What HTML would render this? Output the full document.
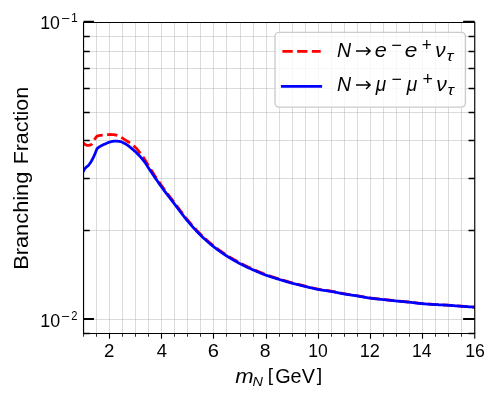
<!DOCTYPE html>
<html><head><meta charset="utf-8"><style>
html,body{margin:0;padding:0;background:#fff;}
svg{display:block;}
text{font-family:"Liberation Sans",sans-serif;fill:#000;font-kerning:none;}
</style></head><body>
<svg width="500" height="400" viewBox="0 0 500 400">
<rect x="0" y="0" width="500" height="400" fill="#fff"/>
<path d="M96.5 22.50 V333.45 M109.5 22.50 V333.45 M122.5 22.50 V333.45 M135.5 22.50 V333.45 M148.5 22.50 V333.45 M161.5 22.50 V333.45 M174.5 22.50 V333.45 M187.5 22.50 V333.45 M200.5 22.50 V333.45 M213.5 22.50 V333.45 M226.5 22.50 V333.45 M240.5 22.50 V333.45 M253.5 22.50 V333.45 M266.5 22.50 V333.45 M279.5 22.50 V333.45 M292.5 22.50 V333.45 M305.5 22.50 V333.45 M318.5 22.50 V333.45 M331.5 22.50 V333.45 M344.5 22.50 V333.45 M357.5 22.50 V333.45 M370.5 22.50 V333.45 M383.5 22.50 V333.45 M396.5 22.50 V333.45 M409.5 22.50 V333.45 M422.5 22.50 V333.45 M435.5 22.50 V333.45 M448.5 22.50 V333.45 M461.5 22.50 V333.45" stroke="#b0b0b0" stroke-opacity="0.45" stroke-width="1" fill="none" shape-rendering="crispEdges"/>
<path d="M83.55 230.5 H474.75 M83.55 178.5 H474.75 M83.55 140.5 H474.75 M83.55 112.5 H474.75 M83.55 88.5 H474.75 M83.55 68.5 H474.75 M83.55 51.5 H474.75 M83.55 36.5 H474.75 M83.55 319.5 H474.75" stroke="#b0b0b0" stroke-opacity="0.45" stroke-width="1" fill="none" shape-rendering="crispEdges"/>
<defs><clipPath id="ax"><rect x="83.55" y="22.5" width="391.2" height="310.95"/></clipPath></defs>
<g clip-path="url(#ax)">
<path d="M83.00 143.00 L83.50 143.22 L83.55 143.25 L84.00 143.54 L84.50 143.96 L85.00 144.38 L85.50 144.76 L86.00 145.00 L86.50 145.15 L87.00 145.28 L87.50 145.37 L88.00 145.40 L88.50 145.38 L89.00 145.31 L89.50 145.21 L90.00 145.10 L90.50 144.92 L91.00 144.65 L91.50 144.30 L92.00 143.76 L92.50 142.98 L93.00 142.07 L93.50 141.14 L94.00 140.30 L94.50 139.55 L95.00 138.82 L95.50 138.10 L96.00 137.39 L96.50 136.70 L96.80 136.30 L97.30 136.11 L97.80 135.93 L98.30 135.77 L98.80 135.64 L99.00 135.60 L99.30 135.55 L99.80 135.46 L100.30 135.39 L100.80 135.33 L101.30 135.28 L101.80 135.22 L102.00 135.20 L102.30 135.17 L102.80 135.12 L103.30 135.07 L103.80 135.02 L104.30 134.98 L104.80 134.93 L105.30 134.89 L105.80 134.85 L106.30 134.81 L106.80 134.77 L107.00 134.75 L107.30 134.72 L107.80 134.67 L108.30 134.61 L108.80 134.56 L109.30 134.52 L109.80 134.50 L110.00 134.50 L110.30 134.50 L110.80 134.51 L111.30 134.52 L111.80 134.54 L112.30 134.56 L112.80 134.59 L113.00 134.60 L113.30 134.62 L113.80 134.68 L114.30 134.75 L114.80 134.85 L115.30 134.95 L115.80 135.07 L116.30 135.20 L116.50 135.25 L116.80 135.33 L117.30 135.49 L117.80 135.68 L118.30 135.89 L118.80 136.12 L119.30 136.36 L119.80 136.62 L120.30 136.88 L120.80 137.14 L121.00 137.25 L121.30 137.41 L121.80 137.71 L122.30 138.03 L122.80 138.36 L123.30 138.71 L123.80 139.05 L124.30 139.39 L124.80 139.72 L125.00 139.85 L125.30 140.04 L125.80 140.34 L126.30 140.63 L126.80 140.93 L127.30 141.22 L127.80 141.51 L128.30 141.82 L128.80 142.13 L129.30 142.46 L129.50 142.60 L129.80 142.81 L130.30 143.17 L130.80 143.54 L131.30 143.92 L131.80 144.31 L132.30 144.71 L132.80 145.12 L133.30 145.54 L133.80 145.97 L134.30 146.41 L134.80 146.86 L135.30 147.31 L135.50 147.50 L136.00 147.95 L136.50 148.53 L137.00 149.13 L137.50 149.72 L138.00 150.33 L138.50 150.94 L139.00 151.57 L139.50 152.20 L140.00 152.84 L140.50 153.48 L141.00 154.14 L141.50 154.81 L142.00 155.48 L142.50 156.16 L143.00 156.87 L143.50 157.58 L144.00 158.31 L144.50 159.06 L145.00 159.83 L145.50 160.63 L146.00 161.47 L146.50 162.33 L147.00 163.21 L147.50 164.08 L148.00 164.93 L148.50 165.76 L149.00 166.57 L149.50 167.37 L150.00 168.16 L150.50 168.95 L151.00 169.74 L151.50 170.52 L152.00 171.30 L152.50 172.08 L153.00 172.86 L153.50 173.63 L154.00 174.40 L154.50 175.16 L155.00 175.93 L155.50 176.69 L156.00 177.44 L156.50 178.20 L157.00 178.95 L157.50 179.69 L158.00 180.43 L158.50 181.17 L159.00 181.90 L159.50 182.63 L160.00 183.35 L160.50 184.07 L161.00 184.79 L161.50 185.50 L162.00 186.20 L162.50 186.90 L163.00 187.59 L163.50 188.28 L164.00 188.97 L164.50 189.65 L165.00 190.32 L165.50 190.99 L166.00 191.66 L166.50 192.33 L167.00 192.99 L167.50 193.65 L168.00 194.31 L168.50 194.97 L169.00 195.62 L169.50 196.28 L170.00 196.93 L170.50 197.59 L171.00 198.24 L171.50 198.90 L172.00 199.55 L172.50 200.20 L173.00 200.86 L173.50 201.52 L174.00 202.17 L174.50 202.83 L175.00 203.50 L175.50 204.16 L176.00 204.83 L176.50 205.50 L177.00 206.17 L177.50 206.84 L178.00 207.52 L178.50 208.19 L179.00 208.86 L179.50 209.54 L180.00 210.21 L180.50 210.88 L181.00 211.55 L181.50 212.21 L182.00 212.88 L182.50 213.54 L183.00 214.19 L183.50 214.84 L184.00 215.49 L184.50 216.13 L185.00 216.77 L185.50 217.40 L186.00 218.02 L186.50 218.64 L187.00 219.25 L187.50 219.85 L188.00 220.45 L188.50 221.04 L189.00 221.63 L189.50 222.22 L190.00 222.80 L190.50 223.39 L191.00 223.96 L191.50 224.54 L192.00 225.11 L192.50 225.68 L193.00 226.24 L193.50 226.80 L194.00 227.36 L194.50 227.91 L195.00 228.46 L195.50 229.00 L196.00 229.54 L196.50 230.08 L197.00 230.61 L197.50 231.13 L198.00 231.65 L198.50 232.17 L199.00 232.68 L199.50 233.18 L200.00 233.68 L200.50 234.18 L201.00 234.67 L201.50 235.15 L202.00 235.64 L202.50 236.12 L203.00 236.59 L203.50 237.06 L204.00 237.53 L204.50 238.00 L205.00 238.46 L205.50 238.92 L206.00 239.37 L206.50 239.82 L207.00 240.27 L207.50 240.71 L208.00 241.15 L208.50 241.58 L209.00 242.02 L209.50 242.44 L210.00 242.87 L210.50 243.29 L211.00 243.71 L211.50 244.12 L212.00 244.53 L212.50 244.94 L213.00 245.34 L213.50 245.74 L214.00 246.13 L214.50 246.52 L215.00 246.91 L215.50 247.30 L216.00 247.68 L216.50 248.06 L217.00 248.43 L217.50 248.81 L218.00 249.18 L218.50 249.55 L219.00 249.91 L219.50 250.27 L220.00 250.63 L220.50 250.99 L221.00 251.34 L221.50 251.69 L222.00 252.04 L222.50 252.38 L223.00 252.72 L223.50 253.06 L224.00 253.40 L224.50 253.73 L225.00 254.06 L225.50 254.39 L226.00 254.72 L226.50 255.04 L227.00 255.36 L227.50 255.68 L228.00 255.99 L228.50 256.31 L229.00 256.62 L229.50 256.93 L230.00 257.24 L230.50 257.54 L231.00 257.85 L231.50 258.15 L232.00 258.45 L232.50 258.74 L233.00 259.04 L233.50 259.33 L234.00 259.62 L234.50 259.91 L235.00 260.19 L235.50 260.48 L236.00 260.76 L236.50 261.04 L237.00 261.32 L237.50 261.59 L238.00 261.87 L238.50 262.14 L239.00 262.41 L239.50 262.68 L240.00 262.94 L240.50 263.20 L241.00 263.47 L241.50 263.73 L242.00 263.98 L242.50 264.24 L243.00 264.49 L243.50 264.74 L244.00 264.99 L244.50 265.24 L245.00 265.48 L245.50 265.73 L246.00 265.97 L246.50 266.21 L247.00 266.45 L247.50 266.68 L248.00 266.92 L248.50 267.15 L249.00 267.39 L249.50 267.62 L250.00 267.85 L250.50 268.08 L251.00 268.31 L251.50 268.53 L252.00 268.76 L252.50 268.98 L253.00 269.21 L253.50 269.43 L254.00 269.65 L254.50 269.87 L255.00 270.10 L255.50 270.32 L256.00 270.54 L256.50 270.76 L257.00 270.98 L257.50 271.19 L258.00 271.41 L258.50 271.63 L259.00 271.84 L259.50 272.05 L260.00 272.26 L260.50 272.47 L261.00 272.68 L261.50 272.89 L262.00 273.09 L262.50 273.30 L263.00 273.50 L263.50 273.70 L264.00 273.89 L264.50 274.09 L265.00 274.28 L265.50 274.47 L266.00 274.65 L266.50 274.84 L267.00 275.02 L267.50 275.20 L268.00 275.37 L268.50 275.55 L269.00 275.72 L269.50 275.89 L270.00 276.06 L270.50 276.23 L271.00 276.39 L271.50 276.55 L272.00 276.72 L272.50 276.88 L273.00 277.04 L273.50 277.19 L274.00 277.35 L274.50 277.51 L275.00 277.66 L275.50 277.82 L276.00 277.97 L276.50 278.13 L277.00 278.28 L277.50 278.44 L278.00 278.59 L278.50 278.75 L279.00 278.90 L279.50 279.06 L280.00 279.21 L280.50 279.37 L281.00 279.52 L281.50 279.68 L282.00 279.83 L282.50 279.98 L283.00 280.14 L283.50 280.29 L284.00 280.44 L284.50 280.60 L285.00 280.75 L285.50 280.90 L286.00 281.05 L286.50 281.20 L287.00 281.35 L287.50 281.50 L288.00 281.65 L288.50 281.79 L289.00 281.94 L289.50 282.08 L290.00 282.23 L290.50 282.37 L291.00 282.51 L291.50 282.65 L292.00 282.79 L292.50 282.92 L293.00 283.06 L293.50 283.19 L294.00 283.32 L294.50 283.45 L295.00 283.59 L295.50 283.71 L296.00 283.84 L296.50 283.97 L297.00 284.10 L297.50 284.22 L298.00 284.35 L298.50 284.47 L299.00 284.59 L299.50 284.72 L300.00 284.84 L300.50 284.96 L301.00 285.08 L301.50 285.20 L302.00 285.32 L302.50 285.44 L303.00 285.56 L303.50 285.69 L304.00 285.81 L304.50 285.93 L305.00 286.05 L305.50 286.17 L306.00 286.29 L306.50 286.41 L307.00 286.53 L307.50 286.66 L308.00 286.78 L308.50 286.91 L309.00 287.03 L309.50 287.16 L310.00 287.28 L310.50 287.40 L311.00 287.53 L311.50 287.65 L312.00 287.77 L312.50 287.89 L313.00 288.01 L313.50 288.13 L314.00 288.25 L314.50 288.36 L315.00 288.48 L315.50 288.59 L316.00 288.70 L316.50 288.80 L317.00 288.91 L317.50 289.01 L318.00 289.11 L318.50 289.20 L319.00 289.30 L319.50 289.38 L320.00 289.47 L320.50 289.56 L321.00 289.64 L321.50 289.72 L322.00 289.80 L322.50 289.87 L323.00 289.95 L323.50 290.02 L324.00 290.10 L324.50 290.17 L325.00 290.24 L325.50 290.31 L326.00 290.39 L326.50 290.46 L327.00 290.53 L327.50 290.60 L328.00 290.68 L328.50 290.75 L329.00 290.83 L329.50 290.91 L330.00 290.99 L330.50 291.07 L331.00 291.15 L331.50 291.24 L332.00 291.32 L332.50 291.41 L333.00 291.51 L333.50 291.60 L334.00 291.70 L334.50 291.79 L335.00 291.89 L335.50 291.99 L336.00 292.09 L336.50 292.19 L337.00 292.30 L337.50 292.40 L338.00 292.50 L338.50 292.60 L339.00 292.71 L339.50 292.81 L340.00 292.91 L340.50 293.01 L341.00 293.11 L341.50 293.21 L342.00 293.31 L342.50 293.40 L343.00 293.50 L343.50 293.59 L344.00 293.68 L344.50 293.77 L345.00 293.85 L345.50 293.94 L346.00 294.02 L346.50 294.10 L347.00 294.18 L347.50 294.26 L348.00 294.34 L348.50 294.42 L349.00 294.49 L349.50 294.57 L350.00 294.65 L350.50 294.72 L351.00 294.80 L351.50 294.87 L352.00 294.95 L352.50 295.02 L353.00 295.09 L353.50 295.17 L354.00 295.25 L354.50 295.32 L355.00 295.40 L355.50 295.47 L356.00 295.55 L356.50 295.63 L357.00 295.71 L357.50 295.79 L358.00 295.87 L358.50 295.96 L359.00 296.04 L359.50 296.13 L360.00 296.22 L360.50 296.31 L361.00 296.40 L361.50 296.49 L362.00 296.58 L362.50 296.67 L363.00 296.76 L363.50 296.85 L364.00 296.94 L364.50 297.03 L365.00 297.12 L365.50 297.21 L366.00 297.29 L366.50 297.38 L367.00 297.46 L367.50 297.55 L368.00 297.63 L368.50 297.71 L369.00 297.78 L369.50 297.86 L370.00 297.93 L370.50 298.00 L371.00 298.07 L371.50 298.13 L372.00 298.19 L372.50 298.26 L373.00 298.32 L373.50 298.37 L374.00 298.43 L374.50 298.49 L375.00 298.55 L375.50 298.60 L376.00 298.65 L376.50 298.71 L377.00 298.76 L377.50 298.81 L378.00 298.87 L378.50 298.92 L379.00 298.97 L379.50 299.02 L380.00 299.07 L380.50 299.12 L381.00 299.18 L381.50 299.23 L382.00 299.28 L382.50 299.33 L383.00 299.39 L383.50 299.44 L384.00 299.50 L384.50 299.55 L385.00 299.61 L385.50 299.66 L386.00 299.72 L386.50 299.77 L387.00 299.83 L387.50 299.89 L388.00 299.94 L388.50 300.00 L389.00 300.05 L389.50 300.11 L390.00 300.16 L390.50 300.22 L391.00 300.27 L391.50 300.33 L392.00 300.38 L392.50 300.44 L393.00 300.49 L393.50 300.54 L394.00 300.60 L394.50 300.65 L395.00 300.70 L395.50 300.75 L396.00 300.81 L396.50 300.86 L397.00 300.91 L397.50 300.96 L398.00 301.00 L398.50 301.05 L399.00 301.10 L399.50 301.15 L400.00 301.19 L400.50 301.24 L401.00 301.29 L401.50 301.33 L402.00 301.38 L402.50 301.42 L403.00 301.47 L403.50 301.51 L404.00 301.56 L404.50 301.60 L405.00 301.65 L405.50 301.70 L406.00 301.74 L406.50 301.79 L407.00 301.84 L407.50 301.89 L408.00 301.94 L408.50 301.99 L409.00 302.04 L409.50 302.09 L410.00 302.14 L410.50 302.20 L411.00 302.26 L411.50 302.31 L412.00 302.37 L412.50 302.43 L413.00 302.49 L413.50 302.55 L414.00 302.61 L414.50 302.68 L415.00 302.74 L415.50 302.80 L416.00 302.86 L416.50 302.92 L417.00 302.98 L417.50 303.04 L418.00 303.10 L418.50 303.16 L419.00 303.22 L419.50 303.27 L420.00 303.33 L420.50 303.38 L421.00 303.43 L421.50 303.48 L422.00 303.53 L422.50 303.57 L423.00 303.61 L423.50 303.66 L424.00 303.70 L424.50 303.74 L425.00 303.78 L425.50 303.82 L426.00 303.85 L426.50 303.89 L427.00 303.93 L427.50 303.97 L428.00 304.00 L428.50 304.04 L429.00 304.07 L429.50 304.11 L430.00 304.14 L430.50 304.17 L431.00 304.20 L431.50 304.24 L432.00 304.27 L432.50 304.30 L433.00 304.33 L433.50 304.36 L434.00 304.40 L434.50 304.43 L435.00 304.46 L435.50 304.49 L436.00 304.52 L436.50 304.55 L437.00 304.58 L437.50 304.60 L438.00 304.63 L438.50 304.66 L439.00 304.68 L439.50 304.71 L440.00 304.73 L440.50 304.76 L441.00 304.78 L441.50 304.81 L442.00 304.83 L442.50 304.86 L443.00 304.89 L443.50 304.91 L444.00 304.94 L444.50 304.96 L445.00 304.99 L445.50 305.02 L446.00 305.04 L446.50 305.07 L447.00 305.10 L447.50 305.13 L448.00 305.16 L448.50 305.19 L449.00 305.22 L449.50 305.26 L450.00 305.29 L450.50 305.33 L451.00 305.36 L451.50 305.40 L452.00 305.44 L452.50 305.48 L453.00 305.51 L453.50 305.55 L454.00 305.59 L454.50 305.63 L455.00 305.67 L455.50 305.72 L456.00 305.76 L456.50 305.80 L457.00 305.84 L457.50 305.88 L458.00 305.92 L458.50 305.96 L459.00 306.00 L459.50 306.04 L460.00 306.08 L460.50 306.12 L461.00 306.15 L461.50 306.19 L462.00 306.23 L462.50 306.26 L463.00 306.30 L463.50 306.33 L464.00 306.37 L464.50 306.40 L465.00 306.43 L465.50 306.47 L466.00 306.50 L466.50 306.53 L467.00 306.57 L467.50 306.60 L468.00 306.63 L468.50 306.66 L469.00 306.70 L469.50 306.73 L470.00 306.76 L470.50 306.80 L471.00 306.83 L471.50 306.87 L472.00 306.90 L472.50 306.94 L473.00 306.97 L473.50 307.01 L474.00 307.04 L474.50 307.08 L475.00 307.12 L475.50 307.16 L476.00 307.20" stroke="#ff0000" stroke-width="2.78" fill="none" stroke-dasharray="10.3 4.45" stroke-linejoin="round"/>
<path d="M82.50 173.00 L83.00 171.99 L83.50 171.00 L83.55 170.90 L84.00 169.98 L84.50 169.05 L84.60 168.90 L85.00 168.40 L85.50 167.87 L86.00 167.40 L86.50 166.96 L87.00 166.56 L87.50 166.17 L88.00 165.74 L88.25 165.50 L88.50 165.23 L89.00 164.64 L89.50 163.99 L90.00 163.30 L90.50 162.56 L91.00 161.76 L91.50 160.92 L91.85 160.30 L92.00 160.03 L92.50 159.10 L93.00 158.13 L93.50 157.11 L94.00 156.05 L94.25 155.50 L94.50 154.93 L95.00 153.73 L95.50 152.47 L96.00 151.21 L96.50 150.00 L97.00 148.85 L97.20 148.40 L97.70 148.03 L98.20 147.67 L98.70 147.33 L99.20 146.99 L99.70 146.68 L100.00 146.50 L100.20 146.38 L100.70 146.10 L101.20 145.83 L101.70 145.57 L102.20 145.31 L102.70 145.06 L103.20 144.82 L103.70 144.59 L104.20 144.36 L104.70 144.13 L105.00 144.00 L105.20 143.91 L105.70 143.68 L106.20 143.46 L106.70 143.23 L107.20 143.01 L107.70 142.79 L108.20 142.59 L108.70 142.40 L109.20 142.23 L109.70 142.08 L110.00 142.00 L110.20 141.95 L110.70 141.82 L111.20 141.70 L111.70 141.57 L112.20 141.46 L112.70 141.35 L113.20 141.26 L113.70 141.19 L114.20 141.14 L114.70 141.11 L115.00 141.10 L115.20 141.10 L115.70 141.11 L116.20 141.13 L116.70 141.16 L117.20 141.19 L117.70 141.23 L118.20 141.28 L118.70 141.34 L119.20 141.40 L119.70 141.46 L120.00 141.50 L120.20 141.53 L120.70 141.64 L121.20 141.78 L121.70 141.96 L122.20 142.17 L122.70 142.40 L123.20 142.65 L123.70 142.91 L124.20 143.17 L124.70 143.44 L125.00 143.60 L125.20 143.71 L125.70 143.99 L126.20 144.30 L126.70 144.63 L127.20 144.98 L127.70 145.34 L128.20 145.71 L128.70 146.10 L129.20 146.48 L129.70 146.87 L130.00 147.10 L130.20 147.26 L130.70 147.65 L131.20 148.06 L131.70 148.47 L132.20 148.90 L132.70 149.33 L133.20 149.77 L133.70 150.21 L134.20 150.67 L134.70 151.12 L135.00 151.40 L135.20 151.59 L135.70 152.05 L136.20 152.53 L136.70 153.01 L137.20 153.49 L137.70 153.99 L138.20 154.50 L138.70 155.01 L139.20 155.54 L139.70 156.07 L140.00 156.40 L140.20 156.62 L140.70 157.18 L141.20 157.75 L141.70 158.33 L142.20 158.92 L142.70 159.52 L143.20 160.14 L143.70 160.77 L144.20 161.42 L144.70 162.09 L145.00 162.50 L145.20 162.78 L145.70 163.51 L146.20 164.28 L146.70 165.07 L147.20 165.88 L147.70 166.67 L148.20 167.45 L148.30 167.60 L148.70 168.20 L149.20 168.96 L149.70 169.71 L150.20 170.46 L150.70 171.21 L151.20 171.96 L151.70 172.71 L152.20 173.46 L152.70 174.20 L153.20 174.95 L153.70 175.69 L154.20 176.42 L154.70 177.16 L155.20 177.90 L155.70 178.63 L156.20 179.36 L156.70 180.08 L157.20 180.80 L157.70 181.53 L158.20 182.24 L158.70 182.96 L159.20 183.67 L159.70 184.37 L160.20 185.08 L160.70 185.78 L161.20 186.47 L161.40 186.75 L161.70 187.16 L162.20 187.85 L162.70 188.53 L163.20 189.21 L163.70 189.89 L164.20 190.56 L164.70 191.22 L165.20 191.89 L165.70 192.55 L166.20 193.20 L166.70 193.86 L167.20 194.51 L167.70 195.17 L168.20 195.81 L168.70 196.46 L169.20 197.11 L169.70 197.76 L170.20 198.40 L170.70 199.05 L171.20 199.70 L171.70 200.34 L172.20 200.99 L172.70 201.64 L173.20 202.29 L173.70 202.94 L174.20 203.59 L174.40 203.85 L174.70 204.24 L175.20 204.90 L175.70 205.56 L176.20 206.22 L176.70 206.89 L177.20 207.56 L177.70 208.22 L178.20 208.89 L178.70 209.56 L179.20 210.23 L179.70 210.90 L180.20 211.56 L180.70 212.23 L181.20 212.89 L181.70 213.55 L182.20 214.21 L182.70 214.86 L183.20 215.51 L183.70 216.16 L184.20 216.80 L184.70 217.43 L185.20 218.06 L185.70 218.68 L186.20 219.30 L186.70 219.91 L187.20 220.51 L187.40 220.75 L187.70 221.11 L188.20 221.70 L188.70 222.29 L189.20 222.87 L189.70 223.46 L190.20 224.04 L190.70 224.61 L191.20 225.18 L191.70 225.75 L192.20 226.32 L192.70 226.88 L193.20 227.44 L193.70 228.00 L194.20 228.55 L194.70 229.09 L195.20 229.64 L195.70 230.17 L196.20 230.71 L196.70 231.24 L197.20 231.76 L197.70 232.28 L198.20 232.80 L198.70 233.30 L199.20 233.81 L199.70 234.31 L200.20 234.80 L200.40 235.00 L200.70 235.29 L201.20 235.78 L201.70 236.26 L202.20 236.74 L202.70 237.21 L203.20 237.69 L203.70 238.15 L204.20 238.62 L204.70 239.08 L205.20 239.53 L205.70 239.99 L206.20 240.44 L206.70 240.88 L207.20 241.32 L207.70 241.76 L208.20 242.20 L208.70 242.63 L209.20 243.06 L209.70 243.48 L210.20 243.90 L210.70 244.32 L211.20 244.73 L211.70 245.14 L212.20 245.54 L212.70 245.94 L213.20 246.34 L213.40 246.50 L213.70 246.74 L214.20 247.13 L214.70 247.51 L215.20 247.90 L215.70 248.28 L216.20 248.66 L216.70 249.04 L217.20 249.41 L217.70 249.78 L218.20 250.14 L218.70 250.51 L219.20 250.87 L219.70 251.23 L220.20 251.58 L220.70 251.93 L221.20 252.28 L221.70 252.63 L222.20 252.97 L222.70 253.31 L223.20 253.65 L223.70 253.99 L224.20 254.32 L224.70 254.65 L225.20 254.98 L225.70 255.30 L226.20 255.62 L226.40 255.75 L226.70 255.94 L227.20 256.26 L227.70 256.57 L228.20 256.89 L228.70 257.20 L229.20 257.50 L229.70 257.81 L230.20 258.11 L230.70 258.42 L231.20 258.72 L231.70 259.01 L232.20 259.31 L232.70 259.60 L233.20 259.89 L233.70 260.18 L234.20 260.47 L234.70 260.75 L235.20 261.04 L235.70 261.32 L236.20 261.59 L236.70 261.87 L237.20 262.14 L237.70 262.42 L238.20 262.69 L238.70 262.95 L239.20 263.22 L239.70 263.48 L240.20 263.75 L240.40 263.85 L240.70 264.01 L241.20 264.26 L241.70 264.52 L242.20 264.77 L242.70 265.02 L243.20 265.27 L243.70 265.52 L244.20 265.76 L244.70 266.01 L245.20 266.25 L245.70 266.49 L246.20 266.73 L246.70 266.96 L247.20 267.20 L247.70 267.43 L248.20 267.66 L248.70 267.89 L249.20 268.12 L249.70 268.35 L250.20 268.58 L250.70 268.80 L251.20 269.03 L251.70 269.25 L252.20 269.47 L252.70 269.69 L253.20 269.91 L253.40 270.00 L253.70 270.13 L254.20 270.35 L254.70 270.57 L255.20 270.79 L255.70 271.00 L256.20 271.22 L256.70 271.44 L257.20 271.65 L257.70 271.87 L258.20 272.08 L258.70 272.29 L259.20 272.50 L259.70 272.71 L260.20 272.92 L260.70 273.12 L261.20 273.33 L261.70 273.53 L262.20 273.73 L262.70 273.93 L263.20 274.13 L263.70 274.32 L264.20 274.51 L264.70 274.70 L265.20 274.89 L265.70 275.07 L266.20 275.26 L266.60 275.40 L266.70 275.44 L267.20 275.61 L267.70 275.79 L268.20 275.96 L268.70 276.13 L269.20 276.30 L269.70 276.46 L270.20 276.63 L270.70 276.79 L271.20 276.95 L271.70 277.11 L272.20 277.27 L272.70 277.43 L273.20 277.58 L273.70 277.74 L274.20 277.89 L274.70 278.04 L275.20 278.20 L275.70 278.35 L276.20 278.50 L276.70 278.65 L277.20 278.80 L277.70 278.95 L278.20 279.11 L278.70 279.26 L279.20 279.41 L279.50 279.50 L279.70 279.56 L280.20 279.71 L280.70 279.87 L281.20 280.02 L281.70 280.17 L282.20 280.32 L282.70 280.47 L283.20 280.62 L283.70 280.77 L284.20 280.92 L284.70 281.07 L285.20 281.22 L285.70 281.37 L286.20 281.52 L286.70 281.67 L287.20 281.81 L287.70 281.96 L288.20 282.10 L288.70 282.25 L289.20 282.39 L289.70 282.53 L290.20 282.67 L290.70 282.81 L291.20 282.95 L291.70 283.08 L292.20 283.22 L292.50 283.30 L292.70 283.35 L293.20 283.49 L293.70 283.62 L294.20 283.75 L294.70 283.88 L295.20 284.00 L295.70 284.13 L296.20 284.26 L296.70 284.38 L297.20 284.51 L297.70 284.63 L298.20 284.75 L298.70 284.87 L299.20 285.00 L299.70 285.12 L300.20 285.24 L300.70 285.36 L301.20 285.48 L301.70 285.60 L302.20 285.72 L302.70 285.83 L303.20 285.95 L303.70 286.07 L304.20 286.19 L304.70 286.31 L305.20 286.43 L305.50 286.50 L305.70 286.55 L306.20 286.67 L306.70 286.79 L307.20 286.91 L307.70 287.03 L308.20 287.16 L308.70 287.28 L309.20 287.40 L309.70 287.53 L310.20 287.65 L310.70 287.77 L311.20 287.89 L311.70 288.01 L312.20 288.14 L312.70 288.25 L313.20 288.37 L313.70 288.49 L314.20 288.60 L314.70 288.72 L315.20 288.83 L315.70 288.94 L316.20 289.04 L316.70 289.15 L317.20 289.25 L317.70 289.35 L318.20 289.44 L318.50 289.50 L318.70 289.54 L319.20 289.63 L319.70 289.71 L320.20 289.80 L320.70 289.88 L321.20 289.96 L321.70 290.04 L322.20 290.11 L322.70 290.19 L323.20 290.26 L323.70 290.34 L324.20 290.41 L324.70 290.48 L325.20 290.55 L325.70 290.62 L326.20 290.69 L326.70 290.76 L327.20 290.83 L327.70 290.91 L328.20 290.98 L328.70 291.05 L329.20 291.13 L329.70 291.21 L330.20 291.29 L330.70 291.37 L331.20 291.45 L331.50 291.50 L331.70 291.53 L332.20 291.62 L332.70 291.71 L333.20 291.80 L333.70 291.90 L334.20 291.99 L334.70 292.09 L335.20 292.19 L335.70 292.29 L336.20 292.39 L336.70 292.49 L337.20 292.59 L337.70 292.69 L338.20 292.79 L338.70 292.89 L339.20 292.99 L339.70 293.09 L340.20 293.19 L340.70 293.29 L341.20 293.39 L341.70 293.49 L342.20 293.58 L342.70 293.68 L343.20 293.77 L343.70 293.86 L344.20 293.95 L344.50 294.00 L344.70 294.03 L345.20 294.12 L345.70 294.20 L346.20 294.28 L346.70 294.36 L347.20 294.44 L347.70 294.52 L348.20 294.60 L348.70 294.67 L349.20 294.75 L349.70 294.82 L350.20 294.90 L350.70 294.97 L351.20 295.05 L351.70 295.12 L352.20 295.19 L352.70 295.27 L353.20 295.34 L353.70 295.42 L354.20 295.49 L354.70 295.57 L355.20 295.64 L355.70 295.72 L356.20 295.79 L356.70 295.87 L357.20 295.95 L357.50 296.00 L357.70 296.03 L358.20 296.11 L358.70 296.20 L359.20 296.28 L359.70 296.37 L360.20 296.46 L360.70 296.54 L361.20 296.63 L361.70 296.72 L362.20 296.81 L362.70 296.90 L363.20 296.99 L363.70 297.08 L364.20 297.17 L364.70 297.26 L365.20 297.35 L365.70 297.44 L366.20 297.52 L366.70 297.61 L367.20 297.69 L367.70 297.77 L368.20 297.85 L368.70 297.93 L369.20 298.00 L369.70 298.08 L370.20 298.15 L370.60 298.20 L370.70 298.21 L371.20 298.28 L371.70 298.34 L372.20 298.40 L372.70 298.46 L373.20 298.52 L373.70 298.58 L374.20 298.64 L374.70 298.69 L375.20 298.75 L375.70 298.80 L376.20 298.85 L376.70 298.91 L377.20 298.96 L377.70 299.01 L378.20 299.06 L378.70 299.11 L379.20 299.16 L379.70 299.21 L380.20 299.27 L380.70 299.32 L381.20 299.37 L381.70 299.42 L382.20 299.47 L382.70 299.52 L383.20 299.58 L383.40 299.60 L383.70 299.63 L384.20 299.69 L384.70 299.74 L385.20 299.80 L385.70 299.85 L386.20 299.91 L386.70 299.96 L387.20 300.02 L387.70 300.07 L388.20 300.13 L388.70 300.18 L389.20 300.24 L389.70 300.29 L390.20 300.35 L390.70 300.40 L391.20 300.46 L391.70 300.51 L392.20 300.56 L392.70 300.62 L393.20 300.67 L393.70 300.72 L394.20 300.77 L394.70 300.83 L395.20 300.88 L395.70 300.93 L396.20 300.98 L396.40 301.00 L396.70 301.03 L397.20 301.08 L397.70 301.13 L398.20 301.18 L398.70 301.22 L399.20 301.27 L399.70 301.32 L400.20 301.36 L400.70 301.41 L401.20 301.45 L401.70 301.50 L402.20 301.54 L402.70 301.59 L403.20 301.63 L403.70 301.68 L404.20 301.72 L404.70 301.77 L405.20 301.81 L405.70 301.86 L406.20 301.91 L406.70 301.95 L407.20 302.00 L407.70 302.05 L408.20 302.10 L408.70 302.15 L409.20 302.20 L409.70 302.25 L410.20 302.31 L410.70 302.36 L411.20 302.42 L411.70 302.47 L412.20 302.53 L412.70 302.59 L413.20 302.65 L413.70 302.71 L414.20 302.77 L414.70 302.84 L415.20 302.90 L415.70 302.96 L416.20 303.02 L416.70 303.08 L417.20 303.14 L417.70 303.20 L418.20 303.26 L418.70 303.32 L419.20 303.37 L419.70 303.43 L420.20 303.48 L420.70 303.53 L421.20 303.58 L421.70 303.63 L422.20 303.67 L422.50 303.70 L422.70 303.72 L423.20 303.76 L423.70 303.80 L424.20 303.84 L424.70 303.88 L425.20 303.92 L425.70 303.96 L426.20 304.00 L426.70 304.03 L427.20 304.07 L427.70 304.10 L428.20 304.14 L428.70 304.17 L429.20 304.21 L429.70 304.24 L430.20 304.27 L430.70 304.31 L431.20 304.34 L431.70 304.37 L432.20 304.40 L432.70 304.43 L433.20 304.47 L433.70 304.50 L434.20 304.53 L434.70 304.56 L435.20 304.59 L435.40 304.60 L435.70 304.62 L436.20 304.65 L436.70 304.68 L437.20 304.70 L437.70 304.73 L438.20 304.76 L438.70 304.78 L439.20 304.81 L439.70 304.83 L440.20 304.86 L440.70 304.88 L441.20 304.91 L441.70 304.93 L442.20 304.96 L442.70 304.98 L443.20 305.01 L443.70 305.03 L444.20 305.06 L444.70 305.08 L445.20 305.11 L445.70 305.14 L446.20 305.16 L446.70 305.19 L447.20 305.22 L447.70 305.25 L448.20 305.28 L448.50 305.30 L448.70 305.31 L449.20 305.35 L449.70 305.38 L450.20 305.41 L450.70 305.45 L451.20 305.49 L451.70 305.52 L452.20 305.56 L452.70 305.60 L453.20 305.64 L453.70 305.68 L454.20 305.72 L454.70 305.76 L455.20 305.80 L455.70 305.84 L456.20 305.88 L456.70 305.92 L457.20 305.96 L457.70 306.00 L458.20 306.04 L458.70 306.08 L459.20 306.12 L459.70 306.16 L460.20 306.20 L460.70 306.23 L461.20 306.27 L461.60 306.30 L461.70 306.31 L462.20 306.34 L462.70 306.38 L463.20 306.41 L463.70 306.45 L464.20 306.48 L464.70 306.52 L465.20 306.55 L465.70 306.58 L466.20 306.61 L466.70 306.65 L467.20 306.68 L467.70 306.71 L468.20 306.75 L468.70 306.78 L469.20 306.81 L469.70 306.85 L470.20 306.88 L470.70 306.91 L471.20 306.95 L471.70 306.98 L472.20 307.02 L472.70 307.05 L473.20 307.09 L473.70 307.12 L474.20 307.16 L474.70 307.20 L474.75 307.20 L475.20 307.24 L475.70 307.28 L476.00 307.30" stroke="#0000ff" stroke-width="2.78" fill="none" stroke-linejoin="round" stroke-linecap="square"/>
</g>
<!-- legend -->
<rect x="275.0" y="32.4" width="190.4" height="74.7" rx="4" ry="4" fill="#ffffff" fill-opacity="0.8" stroke="#cccccc" stroke-width="1.39"/>
<path d="M282.4 51.3 H320.7" stroke="#ff0000" stroke-width="2.78" stroke-dasharray="10.3 4.45"/>
<path d="M282.3 86.35 H320.7" stroke="#0000ff" stroke-width="2.78" stroke-linecap="square"/>
<path d="M356 51.05 H369.6 M366.1 47.15 L370.1 51.05 L366.1 54.95" stroke="#000" stroke-width="1.45" fill="none" stroke-linejoin="miter" stroke-linecap="butt"/>
<path d="M356 85.05 H369.6 M366.1 81.15 L370.1 85.05 L366.1 88.95" stroke="#000" stroke-width="1.45" fill="none" stroke-linejoin="miter" stroke-linecap="butt"/>
<!-- spines -->
<path d="M83.55 22.5 V333.45 M474.75 22.5 V333.45 M82.95 22.5 H475.35 M82.95 333.45 H475.35" stroke="#000" stroke-width="1.15" fill="none"/>
<path d="M83.55 230.5 h6.2 M474.75 230.5 h-6.2 M83.55 178.5 h6.2 M474.75 178.5 h-6.2 M83.55 140.5 h6.2 M474.75 140.5 h-6.2 M83.55 112.5 h6.2 M474.75 112.5 h-6.2 M83.55 88.5 h6.2 M474.75 88.5 h-6.2 M83.55 68.5 h6.2 M474.75 68.5 h-6.2 M83.55 51.5 h6.2 M474.75 51.5 h-6.2 M83.55 36.5 h6.2 M474.75 36.5 h-6.2 M83.55 333.5 h6.2 M474.75 333.5 h-6.2" stroke="#000" stroke-width="1.35" fill="none"/>
<path d="M83.55 319.0 h10.4 M474.75 319.0 h-11.6 M83.55 21.80 h10.4 M474.75 21.80 h-11.6" stroke="#000" stroke-width="1.9" fill="none"/>
<path d="M109.50 333.45 v5.3 M161.50 333.45 v5.3 M213.50 333.45 v5.3 M266.50 333.45 v5.3 M318.50 333.45 v5.3 M370.50 333.45 v5.3 M422.50 333.45 v5.3 M474.75 333.45 v5.3" stroke="#000" stroke-width="1.11" fill="none"/>
<path d="M83.55 333.45 v3.3 M96.50 333.45 v3.3 M122.50 333.45 v3.3 M135.50 333.45 v3.3 M148.50 333.45 v3.3 M174.50 333.45 v3.3 M187.50 333.45 v3.3 M200.50 333.45 v3.3 M226.50 333.45 v3.3 M240.50 333.45 v3.3 M253.50 333.45 v3.3 M279.50 333.45 v3.3 M292.50 333.45 v3.3 M305.50 333.45 v3.3 M331.50 333.45 v3.3 M344.50 333.45 v3.3 M357.50 333.45 v3.3 M383.50 333.45 v3.3 M396.50 333.45 v3.3 M409.50 333.45 v3.3 M435.50 333.45 v3.3 M448.50 333.45 v3.3 M461.50 333.45 v3.3" stroke="#000" stroke-width="0.83" fill="none"/>
<g opacity="0.999">
<text transform="translate(336.900 56.800) scale(0.9727 1)" font-size="20.06" font-style="italic">N</text>
<text transform="translate(374.771 56.800) scale(1.0502 1)" font-size="20.60" font-style="italic">e</text>
<text transform="translate(391.307 51.352) scale(1.0291 1)" font-size="17.60">&#8722;</text>
<text transform="translate(404.836 56.800) scale(1.1002 1)" font-size="20.60" font-style="italic">e</text>
<text transform="translate(421.666 51.445) scale(0.9719 1)" font-size="17.58">+</text>
<text transform="translate(435.301 56.700) scale(1.0382 1)" font-size="19.90" font-style="italic">&#957;</text>
<text transform="translate(446.431 60.650) scale(1.2260 1)" font-size="14.90" font-style="italic">&#964;</text>
<text transform="translate(336.900 90.600) scale(0.9798 1)" font-size="19.91" font-style="italic">N</text>
<text transform="translate(375.699 90.500) scale(0.9546 1)" font-size="19.90" font-style="italic">&#956;</text>
<text transform="translate(391.427 85.252) scale(1.0058 1)" font-size="17.60">&#8722;</text>
<text transform="translate(406.703 90.500) scale(0.9637 1)" font-size="19.90" font-style="italic">&#956;</text>
<text transform="translate(422.526 85.445) scale(1.0187 1)" font-size="17.58">+</text>
<text transform="translate(436.280 90.600) scale(1.0607 1)" font-size="19.90" font-style="italic">&#957;</text>
<text transform="translate(447.469 94.650) scale(1.1569 1)" font-size="14.90" font-style="italic">&#964;</text>
<text transform="translate(103.962 356.620) scale(1.0162 1)" font-size="18.36">2</text>
<text transform="translate(156.776 356.620) scale(1.0052 1)" font-size="18.36">4</text>
<text transform="translate(207.677 356.620) scale(1.0978 1)" font-size="18.36">6</text>
<text transform="translate(259.757 356.620) scale(1.0563 1)" font-size="18.36">8</text>
<text transform="translate(308.163 356.620) scale(0.9560 1)" font-size="18.36">10</text>
<text transform="translate(359.717 356.620) scale(0.9889 1)" font-size="18.36">12</text>
<text transform="translate(412.068 356.620) scale(0.9521 1)" font-size="18.36">14</text>
<text transform="translate(465.249 356.620) scale(0.9662 1)" font-size="18.36">16</text>
<text transform="translate(40.148 28.950) scale(0.9493 1)" font-size="18.70">10</text>
<text transform="translate(61.154 23.023) scale(1.1637 1)" font-size="13.00">&#8722;</text>
<text transform="translate(70.964 21.900) scale(0.9610 1)" font-size="12.79">1</text>
<text transform="translate(40.240 326.900) scale(0.9547 1)" font-size="18.70">10</text>
<text transform="translate(61.374 321.022) scale(1.1321 1)" font-size="13.00">&#8722;</text>
<text transform="translate(71.337 319.900) scale(0.9089 1)" font-size="12.32">2</text>
<text transform="translate(235.233 382.600) scale(1.0790 1)" font-size="20.46" font-style="italic">m</text>
<text transform="translate(252.455 385.500) scale(1.0927 1)" font-size="13.23" font-style="italic">N</text>
<text transform="translate(267.637 381.449) scale(1.0303 1)" font-size="18.56">[</text>
<text transform="translate(275.203 383.099) scale(0.9618 1)" font-size="20.62">GeV</text>
<text transform="translate(316.847 381.449) scale(1.0574 1)" font-size="18.56">]</text>
<text transform="translate(27.850 269.789) rotate(-90) scale(1.0872 1)" font-size="20.06">Branching</text>
<text transform="translate(27.850 164.359) rotate(-90) scale(1.0689 1)" font-size="20.06">Fraction</text>
</g>
</svg>
</body></html>
